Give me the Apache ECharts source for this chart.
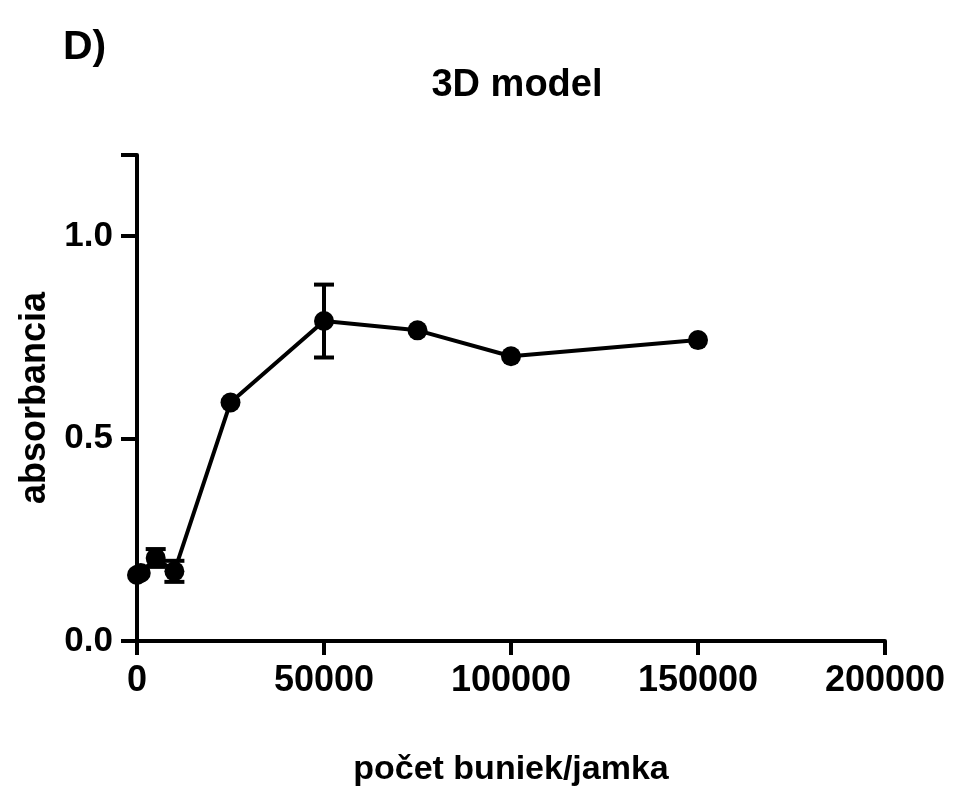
<!DOCTYPE html>
<html>
<head>
<meta charset="utf-8">
<script src="https://cdn.jsdelivr.net/npm/echarts@6/dist/echarts.min.js"></script>
<style>
  html, body { margin: 0; padding: 0; background: #fff; }
  #main { width: 954px; height: 801px; }
</style>
</head>
<body>
<div id="main"></div>
<script>
// bunky na jamku a absorbancia (priemer, SD)
var cells = [0, 1000, 5000, 10000, 25000, 50000, 75000, 100000, 150000];
var absorb = [0.163, 0.168, 0.205, 0.172, 0.589, 0.79, 0.767, 0.703, 0.743];
var sd = [0, 0, 0.022, 0.026, 0, 0.09, 0, 0, 0];
var xTicks = [0, 50000, 100000, 150000, 200000];
var yTicks = [0.0, 0.5, 1.0];

var font = "Liberation Sans";
var myChart = echarts.init(document.getElementById("main"));

var points = cells.map(function (c, i) { return [c, absorb[i]]; });
var errData = cells.map(function (c, i) { return [c, absorb[i] - sd[i], absorb[i] + sd[i]]; })
  .filter(function (d, i) { return sd[i] > 0; });

var option = {
  animation: false,
  backgroundColor: "#fff",
  title: [
    { text: "D)", left: 58, top: 22, textStyle: { fontFamily: font, fontSize: 41, fontWeight: "bold", color: "#000" } },
    { text: "3D model", left: 512, top: 62, textAlign: "center", textStyle: { fontFamily: font, fontSize: 38, fontWeight: "bold", color: "#000" } }
  ],
  grid: { left: 137, right: 69, top: 155, bottom: 160 },
  xAxis: {
    type: "value",
    min: 0, max: 200000, interval: 50000,
    name: "počet buniek/jamka",
    nameLocation: "middle",
    nameGap: 112,
    nameTextStyle: { fontFamily: font, fontSize: 34, fontWeight: "bold", color: "#000" },
    axisLine: { lineStyle: { color: "#000", width: 4 } },
    axisTick: { length: 14, lineStyle: { color: "#000", width: 4 } },
    axisLabel: {
      fontFamily: font, fontSize: 36, fontWeight: "bold", color: "#000", margin: 22,
      formatter: function (v) { return xTicks.indexOf(v) >= 0 ? String(v) : ""; }
    },
    splitLine: { show: false }
  },
  yAxis: {
    type: "value",
    min: 0, max: 1.2, interval: 0.5,
    name: "absorbancia",
    nameLocation: "middle",
    nameGap: 84,
    nameTextStyle: { fontFamily: font, fontSize: 36, fontWeight: "bold", color: "#000" },
    axisLine: { lineStyle: { color: "#000", width: 4 } },
    axisTick: { length: 16, lineStyle: { color: "#000", width: 4 } },
    axisLabel: {
      fontFamily: font, fontSize: 35, fontWeight: "bold", color: "#000", margin: 24,
      formatter: function (v) { return yTicks.indexOf(v) >= 0 ? v.toFixed(1) : ""; }
    },
    splitLine: { show: false }
  },
  series: [
    {
      type: "custom",
      data: errData,
      z: 3,
      renderItem: function (params, api) {
        var x = api.value(0);
        var lo = api.coord([x, api.value(1)]);
        var hi = api.coord([x, api.value(2)]);
        var w = 10;
        var st = { stroke: "#000", lineWidth: 4 };
        return {
          type: "group",
          children: [
            { type: "line", shape: { x1: lo[0], y1: lo[1], x2: hi[0], y2: hi[1] }, style: st },
            { type: "line", shape: { x1: lo[0] - w, y1: lo[1], x2: lo[0] + w, y2: lo[1] }, style: st },
            { type: "line", shape: { x1: hi[0] - w, y1: hi[1], x2: hi[0] + w, y2: hi[1] }, style: st }
          ]
        };
      }
    },
    {
      type: "line",
      data: points,
      z: 4,
      symbol: "circle",
      symbolSize: 20,
      lineStyle: { color: "#000", width: 4 },
      itemStyle: { color: "#000" }
    }
  ]
};

myChart.setOption(option);
</script>
</body>
</html>
